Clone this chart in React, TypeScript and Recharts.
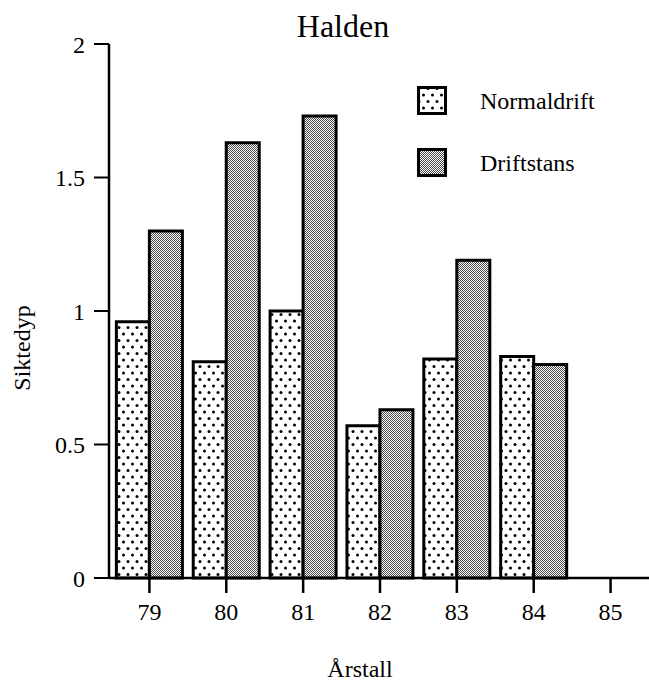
import { BarChart, Bar, XAxis, YAxis } from "recharts";

const years = ["79", "80", "81", "82", "83", "84", "85"];
const normaldrift = [0.96, 0.81, 1.0, 0.57, 0.82, 0.83, null];
const driftstans = [1.3, 1.63, 1.73, 0.63, 1.19, 0.8, null];
const yTicks = [0, 0.5, 1, 1.5, 2];
const seriesNames = ["Normaldrift", "Driftstans"];
const seriesFills = ["url(#dots)", "url(#gray)"];

const data = years.map((year, i) => ({
  year,
  normaldrift: normaldrift[i],
  driftstans: driftstans[i],
}));

const serif = "'Liberation Serif', 'Times New Roman', serif";
const tickStyle = { fill: "#000", fontSize: 24, fontFamily: serif };

function Patterns() {
  return (
    <defs>
      <pattern id="dots" width="9" height="13" patternUnits="userSpaceOnUse">
        <rect width="9" height="13" fill="#fff" />
        <circle cx="2" cy="2.5" r="1.5" fill="#000" />
        <circle cx="6.5" cy="9" r="1.5" fill="#000" />
      </pattern>
      <pattern id="gray" width="2" height="2" patternUnits="userSpaceOnUse">
        <rect width="2" height="2" fill="#fff" />
        <rect x="0" y="0" width="1" height="1" fill="#4a4a4a" />
        <rect x="1" y="1" width="1" height="1" fill="#4a4a4a" />
      </pattern>
    </defs>
  );
}

export default function App() {
  return (
    <div style={{ position: "relative", width: 649, height: 683, fontFamily: serif, color: "#000" }}>
      <style>{`body{margin:0}`}</style>
      <BarChart
        width={649}
        height={683}
        data={data}
        margin={{ top: 44, right: 0, bottom: 0, left: 0 }}
        barCategoryGap="7%"
        barGap={0}
      >
        <Patterns />
        <XAxis
          dataKey="year"
          height={105}
          padding={{ left: 2, right: 0 }}
          tick={tickStyle}
          tickSize={15}
          tickMargin={10}
          axisLine={{ stroke: "#000", strokeWidth: 2.5 }}
          tickLine={{ stroke: "#000", strokeWidth: 2.5 }}
        />
        <YAxis
          width={109}
          domain={[0, 2]}
          ticks={yTicks}
          interval={0}
          tick={tickStyle}
          tickSize={15}
          tickMargin={9}
          axisLine={{ stroke: "#000", strokeWidth: 2.5 }}
          tickLine={{ stroke: "#000", strokeWidth: 2 }}
        />
        <Bar dataKey="normaldrift" fill={seriesFills[0]} stroke="#000" strokeWidth={3} isAnimationActive={false} />
        <Bar dataKey="driftstans" fill={seriesFills[1]} stroke="#000" strokeWidth={3} isAnimationActive={false} />
      </BarChart>

      <div
        style={{
          position: "absolute",
          left: 343,
          top: 10,
          transform: "translateX(-50%)",
          fontSize: 32,
          lineHeight: 1,
          whiteSpace: "nowrap",
        }}
      >
        Halden
      </div>

      <div
        style={{
          position: "absolute",
          left: 22,
          top: 348,
          transform: "translate(-50%, -50%) rotate(-90deg)",
          fontSize: 24,
          lineHeight: 1,
          whiteSpace: "nowrap",
        }}
      >
        Siktedyp
      </div>

      <div
        style={{
          position: "absolute",
          left: 360,
          top: 657,
          transform: "translateX(-50%)",
          fontSize: 24,
          lineHeight: 1,
          whiteSpace: "nowrap",
        }}
      >
        Årstall
      </div>

      {seriesNames.map((name, i) => (
        <div
          key={name}
          style={{ position: "absolute", left: 417, top: 86 + i * 62, display: "flex", alignItems: "center" }}
        >
          <svg width={30} height={29} style={{ display: "block" }}>
            <rect x={1.5} y={1.5} width={27} height={26} fill={seriesFills[i]} stroke="#000" strokeWidth={3} />
          </svg>
          <span style={{ marginLeft: 33, fontSize: 24, lineHeight: 1, whiteSpace: "nowrap" }}>{name}</span>
        </div>
      ))}
    </div>
  );
}
